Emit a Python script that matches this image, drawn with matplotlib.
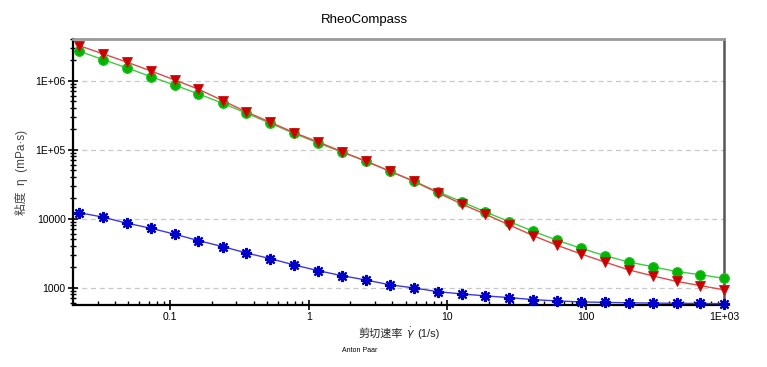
import matplotlib
matplotlib.use("Agg")
import matplotlib.pyplot as plt
from matplotlib.ticker import FixedLocator, FixedFormatter, LogLocator, NullFormatter
from matplotlib.offsetbox import TextArea, HPacker, AnchoredOffsetbox

FAMILY = ['Liberation Sans', 'Noto Sans CJK SC', 'DejaVu Sans']
plt.rcParams['font.family'] = FAMILY
plt.rcParams['mathtext.fontset'] = 'dejavusans'

# ---- data ----
shear_rate = [0.0220, 0.0328, 0.0487, 0.0725, 0.108, 0.160, 0.239, 0.355, 0.528, 0.786,
              1.17, 1.74, 2.59, 3.85, 5.72, 8.51, 12.7, 18.8, 28.0, 41.7,
              62.0, 92.3, 137, 204, 304, 452, 672, 1000]

visc_red = [3.21e6, 2.44e6, 1.85e6, 1.38e6, 1.02e6, 7.50e5, 5.13e5, 3.52e5, 2.49e5, 1.76e5,
            1.29e5, 9.35e4, 6.75e4, 4.88e4, 3.48e4, 2.38e4, 1.63e4, 1.16e4, 8.11e3, 5.67e3,
            4.11e3, 3.08e3, 2.35e3, 1.81e3, 1.48e3, 1.23e3, 1.07e3, 927]

visc_green = [2.67e6, 2.01e6, 1.53e6, 1.14e6, 8.58e5, 6.41e5, 4.70e5, 3.37e5, 2.41e5, 1.71e5,
              1.25e5, 9.15e4, 6.85e4, 4.86e4, 3.50e4, 2.46e4, 1.76e4, 1.25e4, 9.06e3, 6.56e3,
              4.86e3, 3.72e3, 2.91e3, 2.35e3, 2.01e3, 1.71e3, 1.54e3, 1.36e3]

visc_blue = [1.22e4, 1.05e4, 8.57e3, 7.26e3, 5.94e3, 4.80e3, 3.93e3, 3.18e3, 2.63e3, 2.13e3,
             1.76e3, 1.49e3, 1.29e3, 1.10e3, 991, 875, 811, 759, 717, 670,
             641, 621, 611, 603, 597, 592, 590, 585]

x_ticks = [0.1, 1, 10, 100, 1000]
x_tick_labels = ['0.1', '1', '10', '100', '1E+03']
y_ticks = [1000, 10000, 1e5, 1e6]
y_tick_labels = ['1000', '10000', '1E+05', '1E+06']

title = 'RheoCompass'
x_label_parts = ['剪切速率', '$\\dot{\\gamma}$', '(1/s)']
y_label = '粘度  η  (mPa·s)'
footer = 'Anton Paar'

# ---- figure ----
fig = plt.figure(figsize=(7.67, 3.67), dpi=100)
ax = fig.add_axes([73.3/767, 1-305/367, (724.3-73.3)/767, (305-39)/367])

ax.set_xscale('log')
ax.set_yscale('log')
ax.set_xlim(0.02, 1000)
ax.set_ylim(560, 4.0e6)

ax.plot(shear_rate, visc_blue, color='#3a3ae0', lw=1.0, marker=(8, 2, 0), ms=8,
        mec='#0000c8', mew=1.6, zorder=3, clip_on=False)
ax.plot(shear_rate, visc_green, color='#40cc40', lw=1.0, marker='o', ms=7,
        mfc='#00b400', mec='#20c020', mew=0.8, zorder=4, clip_on=False)
ax.plot(shear_rate, visc_red, color='#e04848', lw=1.0, marker='v', ms=6.5,
        mfc='#c80000', mec='#d01010', mew=0.6, zorder=5, clip_on=False)

# grid
for yv in y_ticks:
    ax.axhline(yv, color='#c8c8c8', lw=0.9, ls=(0, (4, 3)), zorder=1)

# ticks
ax.xaxis.set_major_locator(FixedLocator(x_ticks))
ax.xaxis.set_major_formatter(FixedFormatter(x_tick_labels))
ax.xaxis.set_minor_locator(LogLocator(base=10, subs=range(2, 10)))
ax.xaxis.set_minor_formatter(NullFormatter())
ax.yaxis.set_major_locator(FixedLocator(y_ticks))
ax.yaxis.set_major_formatter(FixedFormatter(y_tick_labels))
ax.yaxis.set_minor_locator(LogLocator(base=10, subs=range(2, 10)))
ax.yaxis.set_minor_formatter(NullFormatter())

ax.tick_params(axis='both', which='major', direction='inout', length=7, width=1.2,
               labelsize=7.5, colors='black', pad=2)
ax.tick_params(axis='x', which='minor', direction='in', length=3, width=1.0)
ax.tick_params(axis='y', which='minor', direction='inout', length=4, width=1.0)
ax.tick_params(axis='x', which='major', pad=1.5)

# spines
ax.spines['left'].set_linewidth(1.6)
ax.spines['bottom'].set_linewidth(1.6)
ax.spines['left'].set_color('black')
ax.spines['bottom'].set_color('black')
ax.spines['top'].set_linewidth(2.0)
ax.spines['top'].set_color('#999999')
ax.spines['right'].set_linewidth(1.8)
ax.spines['right'].set_color('#555555')

# x label built from pieces (CJK text + mathtext gamma-dot)
tp = dict(fontsize=8, color='#222222')
parts = [TextArea(s, textprops=tp) for s in x_label_parts]
box = HPacker(children=parts, align='baseline', pad=0, sep=2)
anch = AnchoredOffsetbox(loc='center', child=box, frameon=False, pad=0, borderpad=0,
                         bbox_to_anchor=(399/767, 1-333/367), bbox_transform=fig.transFigure)
fig.add_artist(anch)

ax.set_ylabel(y_label, fontsize=8.5, color='#444444')
ax.yaxis.set_label_coords(-0.069, 0.50)

fig.text(364/767, 1-20/367, title, ha='center', va='center', fontsize=9.5)
fig.text(359.5/767, 1-350/367, footer, ha='center', va='center', fontsize=5)

fig.savefig('out.png', dpi=100)
